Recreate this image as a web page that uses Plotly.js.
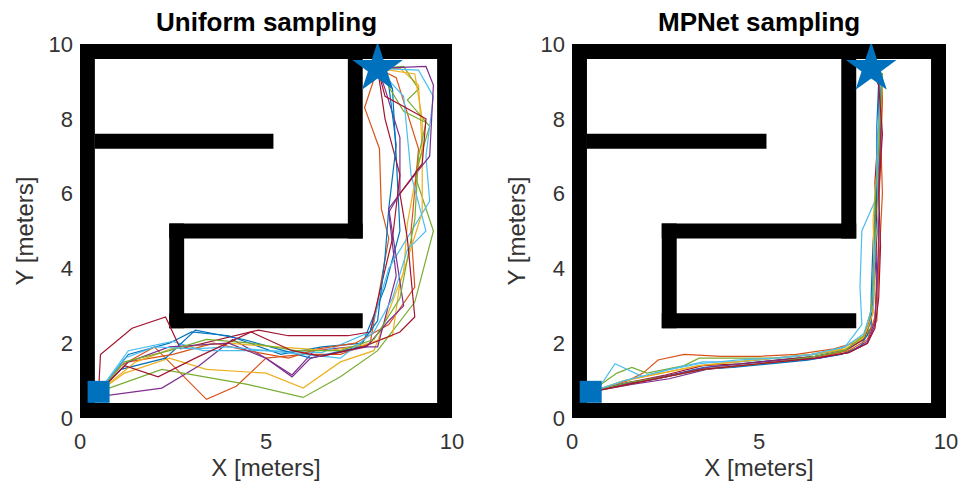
<!DOCTYPE html>
<html>
<head>
<meta charset="utf-8">
<script src="https://cdn.plot.ly/plotly-3.0.1.min.js"></script>
<style>html,body{margin:0;padding:0;background:#fff;}#chart{width:961px;height:484px;}</style>
</head>
<body>
<div id="chart"></div>
<script>
// ---------- data ----------
const subplotTitles = ["Uniform sampling", "MPNet sampling"];
const xTickVals = [0, 5, 10];
const yTickVals = [0, 2, 4, 6, 8, 10];
const startPoint = [0.5, 0.7];
const goalPoint = [8.0, 9.35];

// walls of the occupancy map (x0, x1, y0, y1)
const wallX0 = [0, 0, 0, 9.6, 0.4, 7.2, 2.4, 2.4, 2.4];
const wallX1 = [10, 10, 0.4, 10, 5.2, 7.6, 7.6, 2.8, 7.6];
const wallY0 = [0, 9.6, 0, 0, 7.2, 4.8, 4.8, 2.4, 2.4];
const wallY1 = [0.4, 10, 10, 10, 7.6, 9.6, 5.2, 5.2, 2.8];

const pathColors = ["#0072BD", "#D95319", "#EDB120", "#7E2F8E", "#77AC30", "#4DBEEE", "#A2142F"];

const uniformX = [
  [0.5,1.3,2.4,3.0,4.0,5.4,6.5,7.6,8.2,8.6,8.5,8.4,8.0],
  [0.5,1.1,2.0,3.4,4.2,5.0,6.0,7.0,7.8,8.3,8.1,8.05,7.65,8.0],
  [0.5,1.2,2.4,3.4,5.0,6.0,7.0,7.9,8.7,8.8,9.0,9.2,9.1,8.6,8.0],
  [0.5,0.7,2.2,3.2,4.1,5.0,5.7,6.3,7.3,8.0,8.5,8.3,8.6,8.6,8.2,8.0],
  [0.5,2.2,4.5,6.0,7.0,8.0,9.0,9.5,9.0,9.4,8.8,9.1,8.7,8.0],
  [0.5,1.3,2.5,3.3,5.0,6.5,7.8,8.3,9.4,9.3,9.5,9.1,8.0],
  [0.5,0.55,1.4,2.3,2.7,4.8,5.6,7.2,7.8,8.4,8.6,8.2,8.0],
  [0.5,1.1,2.3,3.1,4.4,5.5,6.2,7.5,8.0,8.2,8.3,8.5,8.3,8.0],
  [0.5,1.3,2.5,3.6,4.5,5.6,6.4,7.4,8.3,9.0,8.9,9.1,8.5,8.0],
  [0.5,1.5,2.6,4.0,5.3,6.7,7.6,8.4,8.6,9.2,9.2,9.0,8.0],
  [0.5,1.3,2.4,4.0,5.0,5.7,6.2,7.7,8.3,8.7,8.3,8.6,9.4,9.5,9.3,8.0],
  [0.5,1.2,2.4,3.4,4.6,5.8,7.0,7.9,8.6,9.0,9.1,9.3,8.7,8.0],
  [0.5,1.2,2.0,3.1,4.0,5.0,6.2,7.0,7.9,8.4,8.8,9.3,8.9,8.7,8.0],
  [0.5,1.2,2.1,3.1,4.6,5.7,6.5,7.6,8.6,9.0,8.8,8.6,9.2,9.3,8.2,8.0]
];
const uniformY = [
  [0.7,1.7,2.0,2.3,2.2,1.7,1.9,2.0,3.5,5.0,7.0,8.8,9.35],
  [0.7,1.4,1.9,0.5,0.85,1.6,1.7,1.7,2.0,4.8,5.6,7.2,8.3,9.35],
  [0.7,1.2,1.6,1.3,1.2,0.8,1.5,1.8,3.9,5.2,6.3,7.2,8.9,9.35,9.35],
  [0.7,0.6,0.8,1.4,2.1,1.6,1.15,1.8,1.9,1.9,3.8,5.5,6.0,7.5,8.8,9.35],
  [0.7,1.3,0.9,0.55,1.1,1.8,3.1,5.0,6.5,7.8,8.5,8.8,9.4,9.35],
  [0.7,1.8,2.05,1.8,1.8,1.75,2.3,4.0,5.8,7.0,8.6,9.3,9.35],
  [0.7,1.7,2.4,2.7,1.85,2.35,2.2,2.2,2.3,4.8,6.5,8.0,9.35],
  [0.7,1.3,1.6,2.35,2.1,1.8,1.6,1.9,2.6,4.3,5.6,7.3,8.9,9.35],
  [0.7,1.5,1.7,2.0,1.8,1.6,1.85,2.0,2.5,3.5,5.0,7.2,9.1,9.35],
  [0.7,1.5,1.9,2.0,1.9,1.8,1.95,2.2,3.6,5.5,8.0,9.2,9.35],
  [0.7,1.5,1.9,2.0,1.6,1.1,1.6,1.9,2.6,3.0,5.6,6.0,7.0,8.9,9.4,9.35],
  [0.7,1.5,1.8,2.1,2.0,1.8,1.8,2.1,3.2,5.3,7.0,7.9,8.2,9.35],
  [0.7,1.6,1.9,1.85,1.9,1.8,1.7,1.6,2.3,3.2,4.5,5.0,6.5,8.6,9.35],
  [0.7,1.4,1.1,1.6,2.3,1.8,1.65,1.9,2.3,2.7,4.8,6.0,6.8,8.0,8.6,9.35]
];

const mpnetX = [
  [0.5,1.5,2.5,3.5,4.5,5.5,6.5,7.3,7.8,8.0,8.05,8.1,8.15,8.2,8.25,8.0],
  [0.5,1.5,1.9,2.3,3.0,4.0,5.0,6.0,7.0,7.7,8.15,8.2,8.3,8.25,8.2,8.0],
  [0.5,1.4,2.4,3.4,4.4,5.4,6.4,7.2,7.8,8.05,8.1,8.2,8.2,8.3,8.3,8.0],
  [0.5,1.6,2.6,3.6,4.6,5.6,6.6,7.4,7.9,8.1,8.15,8.1,8.2,8.25,8.2,8.0],
  [0.5,1.2,1.6,2.0,3.0,3.4,4.5,5.5,6.5,7.4,7.9,8.0,8.1,8.2,8.3,8.0],
  [0.5,0.85,1.15,1.9,2.6,3.5,4.5,5.5,6.5,7.3,7.75,7.7,7.75,8.1,8.2,8.25,8.0],
  [0.5,1.5,2.5,3.5,4.5,5.5,6.5,7.3,7.8,8.0,8.1,8.15,8.1,8.2,8.2,8.0],
  [0.5,1.3,2.3,3.3,4.3,5.3,6.3,7.2,7.7,8.0,8.0,8.05,8.15,8.15,8.2,8.0],
  [0.5,1.5,2.5,3.5,4.5,5.5,6.5,7.4,7.9,8.1,8.2,8.2,8.25,8.3,8.25,8.0],
  [0.5,1.4,2.4,3.4,4.4,5.4,6.4,7.3,7.8,8.05,8.1,8.05,8.15,8.2,8.3,8.0],
  [0.5,1.6,2.6,3.6,4.6,5.6,6.6,7.4,7.9,8.1,8.15,8.2,8.2,8.25,8.25,8.0],
  [0.5,1.5,2.5,3.5,4.5,5.5,6.5,7.3,7.8,8.0,8.1,8.1,8.2,8.25,8.3,8.0],
  [0.5,1.4,2.4,3.4,4.4,5.4,6.4,7.3,7.8,8.05,8.1,8.2,8.15,8.2,8.25,8.0],
  [0.5,1.5,2.5,3.5,4.5,5.5,6.5,7.4,7.9,8.1,8.2,8.25,8.2,8.3,8.2,8.0]
];
const mpnetY = [
  [0.7,0.95,1.1,1.35,1.45,1.55,1.65,1.8,2.1,2.6,3.5,5.0,6.5,8.0,9.0,9.35],
  [0.7,1.0,1.2,1.55,1.7,1.65,1.65,1.7,1.85,2.05,2.6,4.0,6.0,8.0,9.3,9.35],
  [0.7,1.0,1.2,1.4,1.5,1.6,1.7,1.85,2.2,2.8,4.0,5.5,7.0,8.5,9.2,9.35],
  [0.7,0.9,1.05,1.3,1.4,1.5,1.6,1.75,2.05,2.6,3.8,5.2,6.8,8.2,9.1,9.35],
  [0.7,1.2,1.35,1.2,1.4,1.6,1.6,1.6,1.7,1.85,2.2,3.0,4.5,6.5,9.2,9.35],
  [0.7,1.0,1.45,1.1,1.3,1.5,1.5,1.6,1.7,1.9,2.5,3.5,5.0,5.8,7.0,9.0,9.35],
  [0.7,0.95,1.15,1.4,1.45,1.55,1.65,1.8,2.1,2.7,3.8,5.0,6.3,7.8,9.1,9.35],
  [0.7,0.9,1.05,1.3,1.35,1.45,1.55,1.7,1.9,2.4,3.3,4.7,6.2,7.8,9.0,9.35],
  [0.7,0.9,1.1,1.3,1.4,1.5,1.6,1.8,2.1,2.7,4.0,5.5,7.0,8.5,9.2,9.35],
  [0.7,1.0,1.2,1.4,1.5,1.6,1.7,1.85,2.15,2.8,3.6,5.3,6.6,7.6,9.0,9.35],
  [0.7,0.95,1.15,1.35,1.45,1.55,1.6,1.75,2.0,2.5,3.5,4.8,6.2,7.5,8.8,9.35],
  [0.7,0.95,1.1,1.3,1.4,1.5,1.65,1.8,2.2,2.9,4.2,5.8,7.2,8.4,9.2,9.35],
  [0.7,1.0,1.25,1.45,1.55,1.6,1.7,1.9,2.25,3.0,4.5,5.6,6.9,8.1,9.1,9.35],
  [0.7,0.9,1.1,1.3,1.4,1.5,1.6,1.75,2.0,2.4,3.2,4.6,6.0,7.6,8.9,9.35]
];

// ---------- build ----------
const traces = [];
function addPaths(xs, ys, xa, ya) {
  xs.forEach((px, i) => {
    traces.push({
      type: "scatter", mode: "lines", x: px, y: ys[i], xaxis: xa, yaxis: ya,
      line: {color: pathColors[i % pathColors.length], width: 1.2},
      hoverinfo: "skip", showlegend: false
    });
  });
  traces.push({type: "scatter", mode: "markers", x: [startPoint[0]], y: [startPoint[1]], xaxis: xa, yaxis: ya,
    marker: {symbol: "square", size: 22, color: "#0072BD"}, showlegend: false});
  traces.push({type: "scatter", mode: "markers", x: [goalPoint[0]], y: [goalPoint[1]], xaxis: xa, yaxis: ya,
    marker: {symbol: "star", size: 38, color: "#0072BD"}, showlegend: false});
}
addPaths(uniformX, uniformY, "x", "y");
addPaths(mpnetX, mpnetY, "x2", "y2");

const shapes = [];
[["x", "y"], ["x2", "y2"]].forEach(([xr, yr]) => {
  wallX0.forEach((v, i) => {
    shapes.push({type: "rect", xref: xr, yref: yr, x0: v, x1: wallX1[i], y0: wallY0[i], y1: wallY1[i],
      fillcolor: "#000", line: {width: 0}, layer: "below"});
  });
});

const W = 961, H = 484;
const FAM = "Liberation Sans, Arial, sans-serif";
const tickFont = {family: FAM, size: 22, color: "#333333"};
const axTitleFont = {family: FAM, size: 24, color: "#333333"};
function xAxis(d, anchor) {
  return {domain: d, anchor: anchor, range: [0, 10], tickvals: xTickVals, ticktext: xTickVals.map(String),
    showgrid: false, zeroline: false, showline: false, ticks: "", tickfont: tickFont, ticklabelstandoff: 8,
    title: {text: "X [meters]", font: axTitleFont, standoff: 4}};
}
function yAxis(d, anchor) {
  return {domain: d, anchor: anchor, range: [0, 10], tickvals: yTickVals, ticktext: yTickVals.map(String),
    showgrid: false, zeroline: false, showline: false, ticks: "", tickfont: tickFont, ticklabelstandoff: 6,
    title: {text: "Y [meters]", font: axTitleFont, standoff: 8}};
}
const yDom = [(H - 418) / H, (H - 44) / H];
const layout = {
  width: W, height: H, margin: {l: 0, r: 0, t: 0, b: 0},
  paper_bgcolor: "#fff", plot_bgcolor: "#fff", showlegend: false,
  xaxis: xAxis([80 / W, 452 / W], "y"),
  yaxis: yAxis(yDom, "x"),
  xaxis2: xAxis([572 / W, 946 / W], "y2"),
  yaxis2: yAxis(yDom, "x2"),
  shapes: shapes,
  annotations: [
    {text: "<b>" + subplotTitles[0] + "</b>", xref: "paper", yref: "paper", x: 266 / W, y: (H - 22) / H,
      xanchor: "center", yanchor: "middle", showarrow: false,
      font: {family: FAM, size: 26, color: "#000"}},
    {text: "<b>" + subplotTitles[1] + "</b>", xref: "paper", yref: "paper", x: 759 / W, y: (H - 22) / H,
      xanchor: "center", yanchor: "middle", showarrow: false,
      font: {family: FAM, size: 26, color: "#000"}}
  ]
};
Plotly.newPlot("chart", traces, layout, {staticPlot: true, displayModeBar: false});
</script>
</body>
</html>
